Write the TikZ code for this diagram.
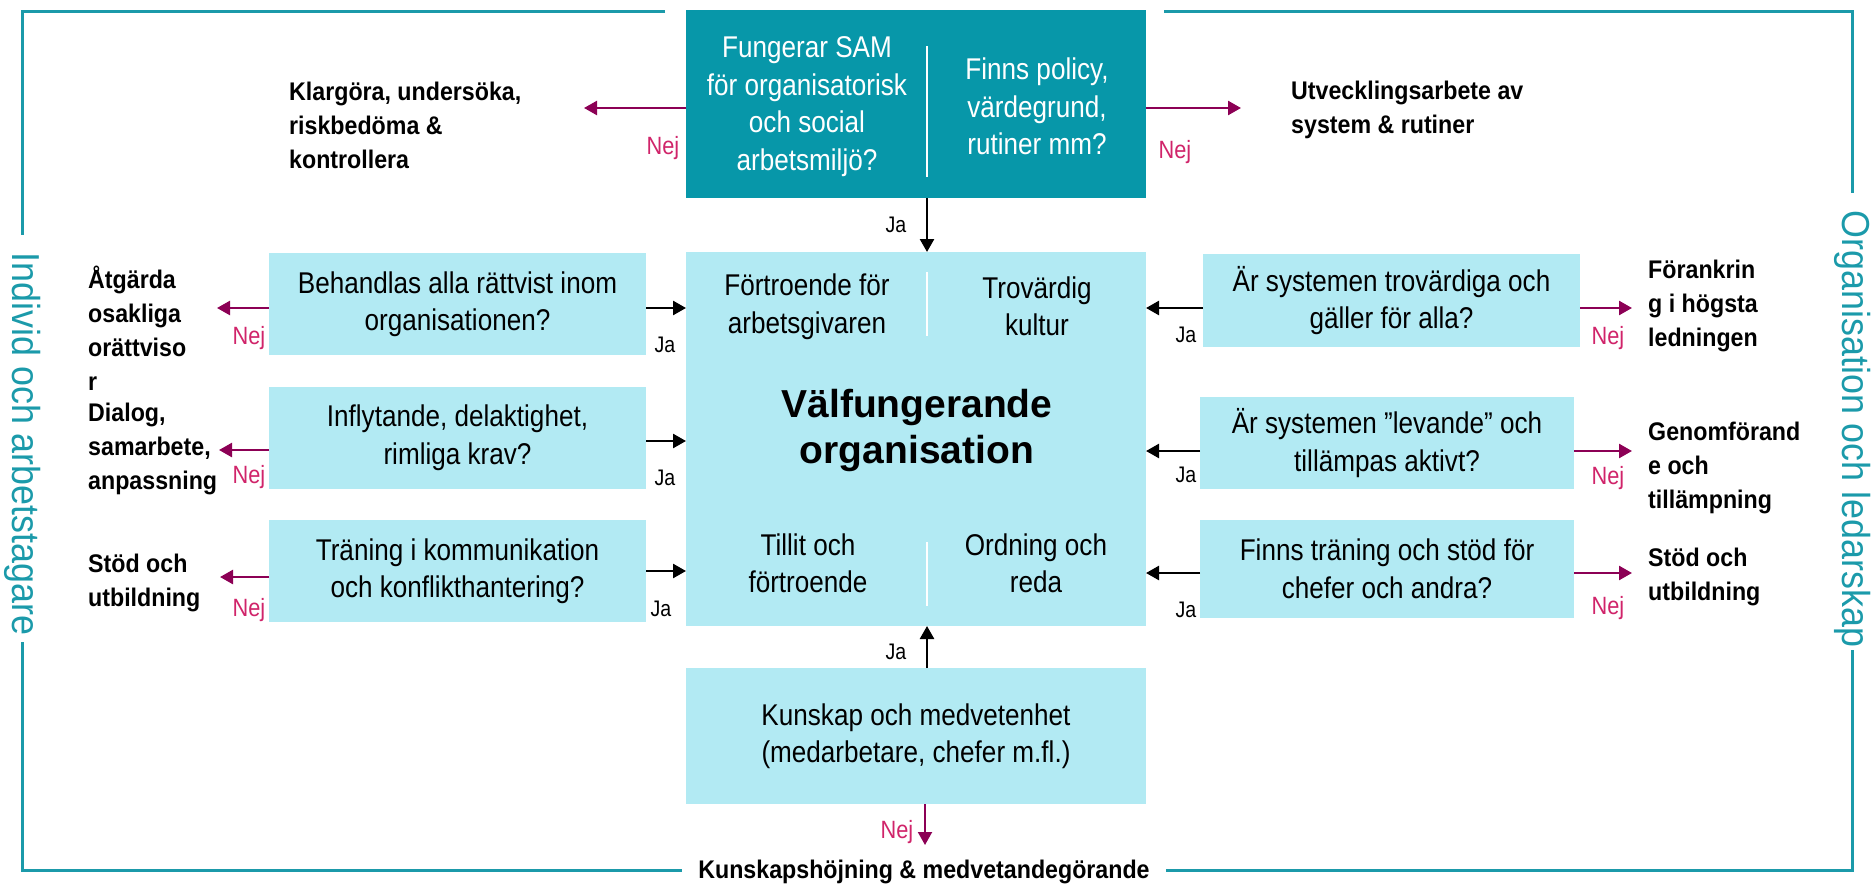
\documentclass[tikz,border=0pt]{standalone}
\usepackage{fontspec}
\setmainfont{Liberation Sans}
\newfontfamily\narrowsans{Liberation Sans}[FakeStretch=0.87]
\newfontfamily\boldsans{Liberation Sans}[FakeStretch=0.91]
\newfontfamily\sidesans{Liberation Sans}[FakeStretch=0.92]
\usetikzlibrary{arrows.meta}
\definecolor{samteal}{HTML}{0797A9}
\definecolor{framecol}{HTML}{1B9AAA}
\definecolor{boxcyan}{HTML}{B2EAF3}
\definecolor{nejline}{HTML}{8C0055}
\definecolor{nejtext}{HTML}{D0246A}
\begin{document}
\begin{tikzpicture}[x=1pt,y=-1pt,
  panel/.style={inner sep=0pt, outer sep=0pt},
  boxtext/.style={align=center, inner sep=0pt, font=\narrowsans\fontsize{30}{37.5}\selectfont},
  outtext/.style={align=left, anchor=west, inner sep=0pt, font=\boldsans\bfseries\fontsize{25.5}{34}\selectfont},
  nejlabel/.style={text=nejtext, inner sep=0pt, font=\narrowsans\fontsize{25}{25}\selectfont},
  jalabel/.style={inner sep=0pt, font=\narrowsans\fontsize{22.5}{22.5}\selectfont},
  nejarrow/.style={draw=nejline, line width=2.5pt, -{Triangle[length=13pt,width=14pt]}},
  jaarrow/.style={draw=black, line width=2.5pt, -{Triangle[length=13pt,width=14pt]}},
  divider/.style={draw=white, line width=2.5pt},
  frame/.style={draw=framecol, line width=3pt},
  sidelabel/.style={text=framecol, rotate=-90, inner sep=0pt, font=\sidesans\fontsize{39}{39}\selectfont}]
\useasboundingbox (0,0) rectangle (1875,888);

% outer frame
\draw[frame] (665,12) -- (22,12) -- (22,235);
\draw[frame] (22,642) -- (22,870) -- (682,870);
\draw[frame] (1164,12) -- (1852,12) -- (1852,193);
\draw[frame] (1852,650) -- (1852,870) -- (1166,870);
\node[sidelabel] (indiv) at (23,444) {Individ och arbetstagare};
\node[sidelabel] (orgled) at (1853,429) {Organisation och ledarskap};
\node[outtext, anchor=center] (hojning) at (924,872) {Kunskapshöjning \& medvetandegörande};

% column of the main boxes
\coordinate (divx) at (927,0);
\node[panel, fill=samteal, minimum width=460, minimum height=188] (sam) at (916,104) {};
\node[boxtext, text=white] (samL) at (807,106.5) {Fungerar SAM\\för organisatorisk\\och social\\arbetsmiljö?};
\node[boxtext, text=white] (samR) at (1037,106.5) {Finns policy,\\värdegrund,\\rutiner mm?};
\draw[divider] (927,46) -- (927,177);

\node[panel, fill=boxcyan, minimum width=460, minimum height=374] (core) at (916,439) {};
\node[boxtext] (c1) at (807,306.5) {Förtroende för\\arbetsgivaren};
\node[boxtext] (c2) at (1037,306.5) {Trovärdig\\kultur};
\node[align=center, inner sep=0pt, font=\bfseries\fontsize{39}{46}\selectfont] (c0) at (917,430) {Välfungerande\\organisation};
\node[boxtext] (c3) at (808,563.5) {Tillit och\\förtroende};
\node[boxtext] (c4) at (1036,563.5) {Ordning och\\reda};
\draw[divider, line width=2pt] (927,272) -- (927,336);
\draw[divider, line width=2pt] (927,542) -- (927,606);

\node[panel, fill=boxcyan, minimum width=460, minimum height=136, boxtext] (kun) at (916,736) {Kunskap och medvetenhet\\(medarbetare, chefer m.fl.)};

% left questions
\node[panel, fill=boxcyan, minimum width=377, minimum height=102, boxtext] (L1) at (457.5,304) {Behandlas alla rättvist inom\\organisationen?};
\node[panel, fill=boxcyan, minimum width=377, minimum height=102, boxtext] (L2) at (457.5,437.5) {Inflytande, delaktighet,\\rimliga krav?};
\node[panel, fill=boxcyan, minimum width=377, minimum height=102, boxtext] (L3) at (457.5,571) {Träning i kommunikation\\och konflikthantering?};

% right questions
\node[panel, fill=boxcyan, minimum width=377, minimum height=93, boxtext] (R1) at (1391.5,300.5) {Är systemen trovärdiga och\\gäller för alla?};
\node[panel, fill=boxcyan, minimum width=374, minimum height=92, boxtext] (R2) at (1387,443) {Är systemen ”levande” och\\tillämpas aktivt?};
\node[panel, fill=boxcyan, minimum width=374, minimum height=98, boxtext] (R3) at (1387,569) {Finns träning och stöd för\\chefer och andra?};

% outcomes
\node[outtext] (klar) at (289,125) {Klargöra, undersöka,\\riskbedöma \&\\kontrollera};
\node[outtext] (utv) at (1291,109.5) {Utvecklingsarbete av\\system \& rutiner};
\node[outtext] (atg) at (88,328) {Åtgärda\\osakliga\\orättviso\\r};
\node[outtext] (dia) at (88,449) {Dialog,\\samarbete,\\anpassning};
\node[outtext] (stodL) at (88,582.5) {Stöd och\\utbildning};
\node[outtext] (fora) at (1648,306) {Förankrin\\g i högsta\\ledningen};
\node[outtext] (genom) at (1648,467.5) {Genomförand\\e och\\tillämpning};
\node[outtext] (stodR) at (1648,576.5) {Stöd och\\utbildning};

% arrow end points
\coordinate (tKlar) at (584,108);
\coordinate (tUtv) at (1241,108);
\coordinate (tL1) at (217,308);
\coordinate (tL2) at (219,450);
\coordinate (tL3) at (220,577);
\coordinate (jL1) at (686,308);
\coordinate (jL2) at (686,441);
\coordinate (jL3) at (686,571);
\coordinate (jR1) at (1146,308);
\coordinate (jR2) at (1146,451);
\coordinate (jR3) at (1146,573);
\coordinate (tR1) at (1632,308);
\coordinate (tR2) at (1632,451);
\coordinate (tR3) at (1632,573);
\coordinate (tKun) at (925,845);

% connectors
\draw[nejarrow] (sam.west |- tKlar) -- (tKlar);
\draw[nejarrow] (sam.east |- tUtv) -- (tUtv);
\draw[jaarrow] (sam.south -| divx) -- (core.north -| divx);
\draw[jaarrow] (kun.north -| divx) -- (core.south -| divx);
\draw[nejarrow, line width=2pt] (kun.south -| tKun) -- (tKun);

\draw[nejarrow] (L1.west |- tL1) -- (tL1);
\draw[nejarrow] (L2.west |- tL2) -- (tL2);
\draw[nejarrow] (L3.west |- tL3) -- (tL3);
\draw[jaarrow] (L1.east |- jL1) -- (jL1);
\draw[jaarrow] (L2.east |- jL2) -- (jL2);
\draw[jaarrow] (L3.east |- jL3) -- (jL3);

\draw[jaarrow] (R1.west |- jR1) -- (jR1);
\draw[jaarrow] (R2.west |- jR2) -- (jR2);
\draw[jaarrow] (R3.west |- jR3) -- (jR3);
\draw[nejarrow] (R1.east |- tR1) -- (tR1);
\draw[nejarrow] (R2.east |- tR2) -- (tR2);
\draw[nejarrow] (R3.east |- tR3) -- (tR3);

% Ja / Nej labels
\node[nejlabel] (n0) at (663,148) {Nej};
\node[nejlabel] (n1) at (1175,152) {Nej};
\node[nejlabel] (nL1) at (249,338) {Nej};
\node[nejlabel] (nL2) at (249,477) {Nej};
\node[nejlabel] (nL3) at (249,610) {Nej};
\node[nejlabel] (nR1) at (1608,338) {Nej};
\node[nejlabel] (nR2) at (1608,478) {Nej};
\node[nejlabel] (nR3) at (1608,608) {Nej};
\node[nejlabel] (nK) at (897,832) {Nej};
\node[jalabel] (j0) at (896,225) {Ja};
\node[jalabel] (jK) at (896,652) {Ja};
\node[jalabel] (jl1) at (665,345) {Ja};
\node[jalabel] (jl2) at (665,478) {Ja};
\node[jalabel] (jl3) at (661,609) {Ja};
\node[jalabel] (jr1) at (1186,335) {Ja};
\node[jalabel] (jr2) at (1186,475) {Ja};
\node[jalabel] (jr3) at (1186,610) {Ja};
\end{tikzpicture}
\end{document}
